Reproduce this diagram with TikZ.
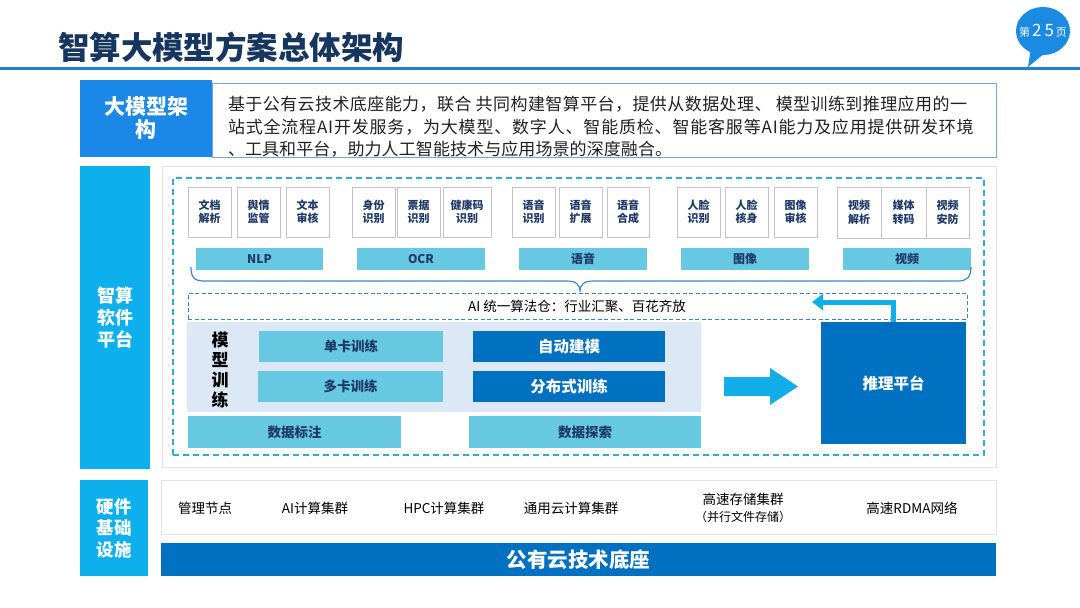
\documentclass[tikz,border=0pt]{standalone}
\usepackage{fontspec}
\setmainfont{Noto Sans CJK SC}
\usetikzlibrary{arrows.meta,calc}
\definecolor{titlenavy}{HTML}{16365F}
\definecolor{topline}{HTML}{1F80D8}
\definecolor{badgeblue}{HTML}{1A8AE2}
\definecolor{toplabel}{HTML}{1B87E6}
\definecolor{tbborder}{HTML}{6FA8E8}
\definecolor{labcyan}{HTML}{0DB0EC}
\definecolor{panelgray}{HTML}{E4E4E4}
\definecolor{dashcyan}{HTML}{33AADD}
\definecolor{sboxgray}{HTML}{C4C4C4}
\definecolor{barcyan}{HTML}{67C8E2}
\definecolor{navytext}{HTML}{1F3A68}
\definecolor{bracecol}{HTML}{3C86D6}
\definecolor{aiblue}{HTML}{3C7FD0}
\definecolor{arrowcyan}{HTML}{12AEEA}
\definecolor{trainbg}{HTML}{DDE8F6}
\definecolor{darkblue}{HTML}{0070C0}
\definecolor{bodytext}{HTML}{222222}
\newcommand\fs[2]{\fontsize{#1}{#2}\selectfont}
\newcommand\R[7]{\node[#1,anchor=north west,minimum width={(#5)-(#3)},minimum height={(#6)-(#4)}] (#2) at (#3,#4) {#7};}
\begin{document}
\begin{tikzpicture}[x=1pt,y=-1pt,
  every node/.style={inner sep=0pt,outer sep=0pt},
  lab/.style={fill=labcyan,text=white,align=center},
  sbox/.style={draw=sboxgray,fill=white,line width=0.8pt,align=center,text=navytext,font=\fs{11}{13.5}\bfseries},
  cbar/.style={fill=barcyan,text=navytext,font=\fs{12}{14}\bfseries},
  lbar/.style={fill=barcyan,text=navytext,font=\fs{13.5}{16}\bfseries},
  dbar/.style={fill=darkblue,text=white,font=\fs{15.5}{18}\bfseries},
  desctext/.style={anchor=west,text=bodytext,font=\fs{17}{20}},
  hw/.style={text=black,font=\fs{13.5}{16},align=center}]
\useasboundingbox (0,0) rectangle (1080,608);
\fill[white] (0,0) rectangle (1080,608);
% title
\node[anchor=west,font=\fs{31.5}{36}\bfseries,text=titlenavy] (title) at (58,47) {智算大模型方案总体架构};
\draw[topline,line width=3pt] (0,68) -- (1080,68);
% page badge
\fill[badgeblue] (1031,48) -- (1028,67) -- (1045,53) -- cycle;
\fill[badgeblue] (1043,31) ellipse [x radius=27,y radius=24];
\node[text=white] (page) at (1043,31) {\fs{11}{11}第\hspace{2pt}\fs{17}{17}2\hspace{3pt}5\hspace{2pt}\fs{11}{11}页};
% top description
\R{lab,fill=toplabel,font=\fs{21}{23}\bfseries}{lbl1}{80}{80}{212}{157}{大模型架\\构}
\R{draw=tbborder,line width=1pt,fill=white}{desc}{212}{83}{996}{157}{}
\node[desctext] (d1) at (228,104) {\addfontfeature{LetterSpace=2.5}基于公有云技术底座能力，联合 共同构建智算平台，提供从数据处理、 模型训练到推理应用的一};
\node[desctext] (d2) at (228,127) {\addfontfeature{LetterSpace=4.8}站式全流程AI开发服务，为大模型、数字人、智能质检、智能客服等AI能力及应用提供研发环境};
\node[desctext] (d3) at (228,149) {\addfontfeature{LetterSpace=0.5}、工具和平台，助力人工智能技术与应用场景的深度融合。};
% software platform
\R{draw=panelgray,fill=white,line width=0.8pt}{panel}{162}{166}{996}{467}{}
\R{lab,font=\fs{18}{22}\bfseries}{lbl2}{80}{166}{150}{469}{智算\\软件\\平台}
\R{draw=dashcyan,line width=1.4pt,dash pattern=on 6pt off 4pt}{outer}{173}{178}{984}{455}{}
% small boxes
\R{sbox}{b11}{188}{187}{231}{237}{文档\\解析}
\R{sbox}{b12}{237}{187}{280}{237}{舆情\\监管}
\R{sbox}{b13}{286}{187}{329}{237}{文本\\审核}
\R{sbox}{b21}{352}{187}{395}{237}{身份\\识别}
\R{sbox}{b22}{397}{187}{440}{237}{票据\\识别}
\R{sbox}{b23}{443}{187}{491}{237}{健康码\\识别}
\R{sbox}{b31}{512}{187}{555}{237}{语音\\识别}
\R{sbox}{b32}{559}{187}{602}{237}{语音\\扩展}
\R{sbox}{b33}{607}{187}{649}{237}{语音\\合成}
\R{sbox}{b41}{677}{187}{720}{237}{人脸\\识别}
\R{sbox}{b42}{725}{187}{768}{237}{人脸\\核身}
\R{sbox}{b43}{774}{187}{817}{237}{图像\\审核}
\R{sbox}{b51}{837}{187}{881}{238}{视频\\解析}
\R{sbox}{b52}{881}{187}{926}{238}{媒体\\转码}
\R{sbox}{b53}{926}{187}{969}{238}{视频\\安防}
% category bars
\R{cbar}{nlp}{196}{248}{323}{270}{NLP}
\R{cbar}{ocr}{357}{248}{485}{270}{OCR}
\R{cbar}{voice}{519}{248}{647}{270}{语音}
\R{cbar}{image}{681}{248}{809}{270}{图像}
\R{cbar}{video}{843}{248}{971}{270}{视频}
% brace
\draw[bracecol,line width=1.2pt] (191,267) .. controls (191,277) and (194,281) .. (204,281) -- (566,281)
  .. controls (576,281) and (580,284) .. (580,292) .. controls (580,284) and (584,281) .. (594,281)
  -- (958,281) .. controls (967,281) and (971,277) .. (971,267);
% AI repository
\R{draw=aiblue,line width=1pt,dash pattern=on 4pt off 2.5pt}{ai}{188}{293}{967}{319}{}
\node[text=black,font=\fs{13.5}{16}] (aitext) at (577,306) {AI 统一算法仓：行业汇聚、百花齐放};
% model training
\R{fill=trainbg}{train}{187}{322}{701}{412}{}
\node[align=center,text=black,font=\fs{17}{20}\bfseries] (mt) at (220,370) {模\\型\\训\\练};
\R{lbar}{single}{259}{331}{443}{362}{单卡训练}
\R{lbar}{multi}{258}{371}{443}{402}{多卡训练}
\R{dbar}{auto}{473}{331}{665}{362}{自动建模}
\R{dbar}{dist}{473}{371}{665}{402}{分布式训练}
\R{lbar}{label}{188}{416}{401}{448}{数据标注}
\R{lbar}{explore}{469}{416}{701}{448}{数据探索}
% big arrow
\fill[arrowcyan] (724,377) -- (770,377) -- (770,368) -- (798,386.5) -- (770,405) -- (770,396) -- (724,396) -- cycle;
\R{dbar}{infer}{821}{322}{966}{444}{推理平台}
\coordinate (aitip) at (812,302);
\draw[arrowcyan,line width=5pt,-{Triangle[length=11pt,width=16pt]}] (infer.north) |- (aitip);
% hardware
\R{draw=panelgray,fill=white,line width=0.8pt}{hwpanel}{161}{480}{996}{534}{}
\R{lab,font=\fs{17.5}{21.5}\bfseries}{lbl3}{80}{480}{148}{576}{硬件\\基础\\设施}
\node[hw] (h1) at (205,508) {管理节点};
\node[hw] (h2) at (315,508) {AI计算集群};
\node[hw] (h3) at (444,508) {HPC计算集群};
\node[hw] (h4) at (571,508) {通用云计算集群};
\node[hw] (h5) at (743,499) {高速存储集群};
\node[hw,font=\fs{12}{14}] (h5b) at (743,517) {（并行文件存储）};
\node[hw] (h6) at (912,508) {高速RDMA网络};
\R{fill=darkblue,text=white,font=\fs{20.5}{24}\bfseries}{base}{161}{543}{996}{576}{公有云技术底座}
\end{tikzpicture}
\end{document}
